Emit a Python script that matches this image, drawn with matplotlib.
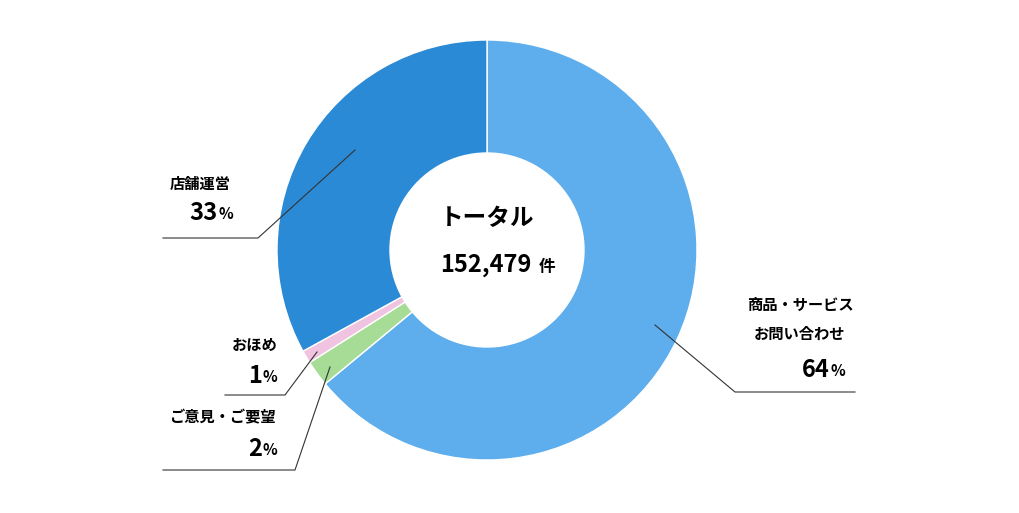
import matplotlib.pyplot as plt

plt.rcParams['font.family'] = ['Noto Sans CJK JP', 'DejaVu Sans']

labels = ['商品・サービス\nお問い合わせ', 'ご意見・ご要望', 'おほめ', '店舗運営']
values = [64, 2, 1, 33]
colors = ['#5eadec', '#a6dc96', '#f0c3e0', '#2b8ad6']
total = '152,479'

W, H = 1019, 513
fig = plt.figure(figsize=(W / 100, H / 100), dpi=100)
ax = fig.add_axes([0, 0, 1, 1])
ax.set_xlim(0, W)
ax.set_ylim(0, H)
ax.set_aspect('equal')
ax.axis('off')

cx, cy = 487, H - 250
ax.pie(values, colors=colors, startangle=90, counterclock=False,
       center=(cx, cy), radius=210, frame=True,
       wedgeprops=dict(width=113, edgecolor='white', linewidth=1))
ax.set_xlim(0, W)
ax.set_ylim(0, H)
ax.axis('off')

def Y(y):
    return H - y

ax.text(cx, Y(218), 'トータル', ha='center', va='center', fontsize=17, fontweight='bold')
ax.text(cx + 45, Y(265), total, ha='right', va='center', fontsize=17, fontweight='bold')
ax.text(cx + 52, Y(267), '件', ha='left', va='center', fontsize=12, fontweight='bold')

def lead(pts):
    ax.plot([p[0] for p in pts], [Y(p[1]) for p in pts], color='#333333', lw=0.8)

def pct(x, y, v):
    ax.text(x, Y(y), str(v), ha='right', va='center', fontsize=17, fontweight='bold')
    ax.text(x + 1, Y(y + 1), '%', ha='left', va='center', fontsize=11, fontweight='bold')

# 商品・サービス
lead([(655, 325), (735, 392), (855, 392)])
ax.text(800, Y(305), '商品・サービス', ha='center', va='center', fontsize=11, fontweight='bold')
ax.text(800, Y(334), 'お問い合わせ', ha='center', va='center', fontsize=11, fontweight='bold')
pct(830, 370, values[0])

# 店舗運営
lead([(355, 150), (258, 238), (163, 238)])
ax.text(200, Y(184), '店舗運営', ha='center', va='center', fontsize=11, fontweight='bold')
pct(218, 213, values[3])

# おほめ
lead([(317, 352), (285, 395), (225, 395)])
ax.text(255, Y(345), 'おほめ', ha='center', va='center', fontsize=11, fontweight='bold')
pct(262, 376, values[2])

# ご意見・ご要望
lead([(330, 367), (295, 470), (163, 470)])
ax.text(222, Y(417), 'ご意見・ご要望', ha='center', va='center', fontsize=11, fontweight='bold')
pct(262, 449, values[1])

fig.savefig('out.png', dpi=100)
